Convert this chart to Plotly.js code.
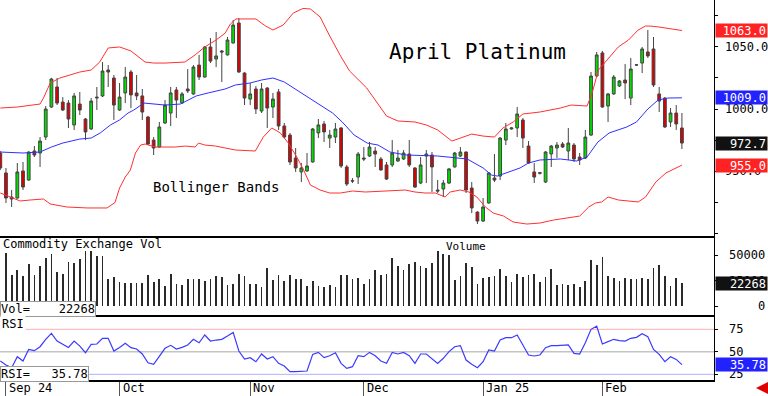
<!DOCTYPE html>
<html><head><meta charset="utf-8">
<script src="https://cdn.plot.ly/plotly-3.0.1.min.js"></script>
<style>html,body{margin:0;padding:0;background:#fff}#chart{width:768px;height:396px}</style>
</head><body><div id="chart"></div>
<script>
// ---- Daily OHLC (trading-day index 0..120) ----
const open = [964.7,948.7,929.4,928.6,950.3,943.0,966.3,964.7,977.5,1001.6,
1017.7,1005.6,1004.8,987.2,1004.0,992.0,984.0,1009.6,1010.5,1031.3,
1024.9,999.2,1012.9,1029.7,1012.9,1010.5,993.6,975.1,969.5,988.8,
996.8,1015.3,1004.8,1016.1,1012.1,1035.3,1025.7,1049.8,1040.1,1046.6,
1043.4,1053.0,1069.0,1028.9,1008.0,1016.1,998.4,1016.9,1001.6,1013.7,
986.4,979.1,960.7,949.5,950.3,957.5,980.8,988.0,976.7,977.5,
984.8,953.5,942.5,945.4,960.7,962.3,966.3,959.9,955.1,955.1,
958.3,959.9,963.9,952.7,940.6,962.3,963.1,935.0,935.8,940.6,
953.5,962.3,965.5,936.6,917.3,910.1,924.6,944.6,946.2,975.1,
984.0,984.8,991.2,970.3,949.5,948.9,941.4,963.9,968.7,971.9,
966.3,971.1,961.5,960.7,979.1,1026.5,1045.0,1002.4,1012.1,1018.5,
1023.3,1008.8,1035.5,1036.9,1045.8,1048.2,1012.1,1008.8,989.6,996.8,984.8];
const high = [966.3,952.7,935.0,956.7,957.5,966.0,970.3,977.5,1002.4,1025.0,
1024.9,1009.6,1007.2,1012.9,1013.7,992.8,1008.8,1017.7,1037.7,1035.3,
1027.3,1020.9,1033.7,1031.3,1027.3,1016.1,994.5,977.5,989.6,1007.2,
1017.7,1017.7,1013.7,1032.1,1035.3,1043.4,1050.5,1057.0,1061.8,1047.4,
1057.8,1071.4,1073.0,1029.5,1020.9,1018.5,1020.9,1017.5,1012.9,1016.1,
988.8,980.8,968.7,956.7,964.7,984.8,992.0,990.4,983.2,988.8,
985.5,955.1,944.6,965.5,969.5,973.5,969.5,961.5,957.5,975.1,
967.1,967.1,975.1,953.3,961.5,967.1,965.5,943.0,943.0,952.7,
965.5,969.5,966.0,941.4,918.0,928.6,949.2,963.9,977.5,988.8,
985.5,1001.6,992.8,974.3,956.7,949.5,966.3,971.1,973.5,973.5,
984.8,972.7,964.7,983.2,1029.7,1045.8,1046.6,1012.9,1027.3,1023.3,
1036.1,1041.0,1036.0,1049.8,1063.4,1057.8,1017.7,1009.6,1000.8,1003.2,996.8];
const low = [951.0,924.6,921.4,928.0,935.0,942.5,961.5,953.5,975.1,1001.0,
1003.2,998.4,984.8,983.2,995.2,975.1,983.2,999.2,1009.6,1017.7,
991.2,998.5,1004.8,1000.8,1007.2,991.2,971.0,963.1,969.0,988.0,
986.4,992.8,1004.5,1012.9,1011.3,1023.3,1025.0,1036.9,1033.7,1021.7,
1043.0,1052.5,1029.0,1003.2,1003.2,996.0,996.8,984.8,992.8,983.2,
976.7,955.1,949.5,941.4,949.5,957.0,976.7,973.5,968.7,972.7,
952.7,938.2,940.6,939.8,958.3,961.5,953.5,950.5,943.0,953.5,
957.5,959.1,953.5,936.6,939.8,940.6,933.4,932.6,929.4,939.8,
953.0,961.5,932.6,916.5,907.7,909.3,924.0,941.4,943.0,971.1,
983.5,977.5,968.7,956.0,940.6,947.5,940.6,953.5,960.7,968.7,
959.1,957.5,955.1,959.9,978.5,1025.7,1001.0,989.6,1011.3,1017.7,
1008.0,1003.2,1034.8,1028.9,1041.0,1017.7,997.6,984.8,985.6,983.2,967.9];
const close = [952.7,928.6,927.8,949.5,937.4,965.5,963.1,974.3,1000.0,1024.1,
1004.8,999.2,992.0,1010.5,999.2,981.6,1006.4,1009.0,1030.5,1029.7,
1003.2,1009.6,1025.7,1011.3,1010.5,997.6,971.9,968.7,985.6,1003.2,
1012.9,1007.2,1012.1,1014.5,1033.7,1025.7,1049.8,1038.5,1042.6,1045.8,
1055.4,1067.4,1029.7,1008.8,1012.1,1000.0,1016.1,1000.8,1008.0,986.4,
977.5,957.5,952.7,952.7,954.3,984.0,987.2,981.6,979.1,984.0,
954.3,939.8,942.2,963.9,959.9,969.5,963.9,951.1,943.8,964.7,
960.7,964.7,955.1,937.4,955.1,963.9,953.5,934.2,940.6,951.9,
964.7,965.5,935.0,920.6,910.1,921.4,948.7,943.0,976.7,984.0,
984.8,996.0,976.7,956.7,945.4,948.5,965.5,970.3,971.1,969.5,
972.7,959.9,959.1,977.5,1026.5,1043.4,1001.6,1012.1,1025.7,1022.5,
1020.9,1032.1,1035.3,1048.2,1042.6,1019.3,1006.4,985.6,996.8,988.0,972.7];

// ---- Commodity Exchange volume ----
const volume = [null,52000,31000,35500,30000,41000,31000,39500,47000,51000,
34000,31500,43700,42000,46000,54000,54000,49000,49000,27000,
29000,24000,23000,23000,23000,23000,31000,23500,27000,20000,
32000,22000,21000,27000,27000,27000,25000,27000,29600,29000,
21000,22000,32000,29600,22000,22000,19000,37000,25600,31000,
25000,31000,27000,27000,20000,25000,20000,18400,21000,19000,
30600,30600,27000,28000,22000,27000,36000,31000,31200,47000,
39400,35500,41000,43700,39400,37100,42700,54600,51300,50300,
25600,29900,42000,38800,21700,27900,28900,29600,36200,29600,
24000,31600,28900,30600,31200,23300,28300,36500,20700,21700,
20700,21700,19000,24700,45400,40400,48600,29600,27300,24700,
27300,26300,26300,27900,26600,37800,40400,29900,19700,27900,22268];

// ---- RSI ----
const rsi = [39.8,35.3,32.4,44.6,39.8,52.7,51.3,55.7,63.9,70.5,
62.0,58.7,54.9,62.0,56.4,49.0,58.3,58.7,65.0,65.0,
50.9,54.9,59.4,54.6,53.1,47.6,37.9,36.1,44.6,53.9,
57.2,53.1,54.9,57.6,63.9,60.1,68.7,62.0,63.1,63.9,
67.6,71.6,50.9,42.0,43.5,39.0,47.6,42.0,44.6,37.2,
34.2,27.9,27.9,28.7,28.7,47.2,49.4,43.5,45.7,49.0,
37.2,31.6,33.5,45.7,44.6,49.4,45.7,39.8,37.2,49.4,
47.6,49.4,45.7,37.2,47.6,47.6,42.0,37.2,42.8,50.2,
55.7,56.9,40.9,36.1,32.4,39.1,52.0,50.9,63.1,65.7,
65.7,68.7,57.6,46.5,45.4,46.5,54.6,56.9,56.9,56.9,
57.6,48.3,47.6,60.0,75.0,78.5,58.7,61.3,63.9,62.4,
62.0,65.0,66.1,70.1,66.8,52.7,47.2,39.0,44.6,41.6,35.78];

// ---- Bollinger bands (read at sample positions) ----
const upperIdx = [0,3,7,7.6,8.8,10.5,14,16,17.5,19,21,23,25.5,27,29,32.5,34.3,36,38,39.6,40.5,41.5,45,46.7,48,49.8,51.6,53.3,54.6,56.3,58,60,61.5,64.5,68,70,73,75,77,78.5,79.5,81,83,85,87,88.5,90.3,92,95,98.6,100.5,103.3,104.2,105.3,106.5,108.8,110.6,112.3,113.6,114.4,116,118.3,120];
const upperVal = [1000.8,1001.6,1004.0,1008.8,1020.9,1024.9,1029.7,1031.3,1037.7,1049.0,1049.8,1046.6,1037.7,1036.9,1036.9,1037.7,1043.4,1049.8,1055.4,1061.0,1068.2,1072.3,1072.3,1066.6,1063.4,1067.4,1077.1,1080.7,1080.3,1073.9,1058.6,1041.8,1030.5,1016.9,994.4,990.4,989.6,987.2,983.2,977.5,974.3,976.7,979.9,978.3,977.5,984.8,989.6,996.0,997.6,1000.8,1003.2,1002.4,1012.9,1031.3,1037.7,1049.8,1055.4,1063.4,1066.6,1066.6,1065.8,1064.2,1063.0];
const midIdx = [0,4,7,9,11,14,16,17.6,19.4,21,22.5,23.5,25.3,29,31.7,33,34.5,36.6,39.6,41.4,44,46,48,50,52.2,54.6,56.3,58.5,60.2,62.3,64.6,66.5,68.6,71.4,77,79.2,82.2,85,86.5,87.5,89.4,91.5,93,95,98.6,101.5,103.3,104.2,105.2,107.2,110.3,112,114,115.8,117.5,120];
const midVal = [965.5,964.7,965.5,969.5,972.7,975.9,976.7,980.8,987.2,991.2,996.8,999.2,1004.8,1003.2,1004.0,1007.2,1010.5,1012.9,1016.1,1019.3,1020.9,1023.3,1024.9,1021.7,1015.3,1008.8,1003.2,996.8,989.6,979.1,972.7,971.1,965.5,963.1,962.3,961.5,959.9,952.7,947.0,946.2,949.5,952.7,956.7,959.1,959.9,958.3,961.5,967.1,973.5,980.8,985.6,989.6,1000.0,1007.2,1008.8,1009.0];
const lowerIdx = [0,2.6,3.5,5.3,7.6,8.8,11.7,15.3,18.8,20.2,21,22,22.9,23.8,24.7,25.5,27.3,30.8,32.6,34.3,34.9,36,37.9,39.6,41.4,44.9,46.3,47.8,49.3,50.7,52.2,53.4,54.6,56.3,58,59.9,62,64.3,67.8,71.3,73,74.8,76.6,77.7,78.3,79.2,81,82.5,83.9,85.4,86.8,88.6,90.3,92.7,95,97.4,100.4,102,103.6,104.8,105.9,107,108.8,110.6,112.3,113.6,115.4,117.2,119,120];
const lowerVal = [932.6,927.8,926.2,927.0,927.8,923.8,921.4,920.6,920.6,925.0,936.6,945.4,951.1,964.7,971.1,971.9,969.5,969.5,970.3,969.5,972.7,971.1,970.3,968.7,967.1,966.3,977.5,984.8,980.8,972.7,961.5,951.1,939.0,935.0,932.6,932.6,934.2,933.4,934.2,935.0,933.4,932.6,932.6,930.2,929.4,933.4,935.0,933.4,929.4,921.4,916.5,914.1,909.3,907.7,908.5,910.9,913.3,914.1,921.4,924.6,925.4,929.4,927.0,926.2,925.4,929.4,941.4,948.7,952.7,955.0];

// ---- Axis ticks / labels ----
const monthIdx = [1, 21, 44, 64, 85, 106];
const monthLabels = ['Sep 24', 'Oct', 'Nov', 'Dec', 'Jan 25', 'Feb'];
const priceTicks = [900, 925, 950, 975, 1000, 1025, 1050, 1075];
const priceLabels = [950, 1000, 1050];
const volTicks = [0, 25000, 50000];
const rsiTicks = [25, 50, 75];

const days = open.map((_, i) => i);
const W = 768, H = 396;
const px = v => v / W, py = v => 1 - v / H;
const MONO = 'DejaVu Sans Mono';
const last = a => a[a.length - 1];

const traces = [
  {type:'scatter', mode:'lines', x:upperIdx, y:upperVal, xaxis:'x', yaxis:'y', line:{color:'#ff3030', width:1}, hoverinfo:'skip'},
  {type:'scatter', mode:'lines', x:lowerIdx, y:lowerVal, xaxis:'x', yaxis:'y', line:{color:'#ff3030', width:1}, hoverinfo:'skip'},
  {type:'scatter', mode:'lines', x:midIdx, y:midVal, xaxis:'x', yaxis:'y', line:{color:'#2f2fff', width:1}, hoverinfo:'skip'},
  {type:'candlestick', x:days, open:open, high:high, low:low, close:close, xaxis:'x', yaxis:'y',
   increasing:{line:{color:'#444', width:1}, fillcolor:'#00dd00'},
   decreasing:{line:{color:'#444', width:1}, fillcolor:'#dd0000'}, whiskerwidth:0, hoverinfo:'skip'},
  {type:'bar', x:days, y:volume, xaxis:'x2', yaxis:'y2', width:0.3, marker:{color:'#2a2a2a', line:{width:0}}, hoverinfo:'skip'},
  {type:'scatter', mode:'lines', x:days, y:rsi, xaxis:'x3', yaxis:'y3', line:{color:'#3a3aff', width:1.2}, hoverinfo:'skip'}
];

const xr = [-0.05, 125.65];
const xBase = {domain:[0, 714/W], range:xr, showgrid:false, zeroline:false, showticklabels:false,
  showline:true, linecolor:'#000', linewidth:1.5, fixedrange:true};
const yBase = {side:'right', showline:true, linecolor:'#000', linewidth:1, ticks:'outside', ticklen:3,
  tickcolor:'#000', showticklabels:false, showgrid:false, zeroline:false, fixedrange:true};

const ann = [];
const txt = (o) => ann.push(Object.assign({showarrow:false, xanchor:'center', yanchor:'middle',
  font:{family:MONO, size:12, color:'#000'}}, o));

// right-hand axis labels
priceLabels.forEach(v => txt({x:px(723), xref:'paper', xanchor:'left', y:v, yref:'y', text:v.toFixed(1)}));
volTicks.forEach(v => txt({x:px(767), xref:'paper', xanchor:'right', y:v, yref:'y2', text:String(v)}));
rsiTicks.forEach(v => txt({x:px(727), xref:'paper', xanchor:'left', y:v, yref:'y3', text:String(v)}));

// last-value boxes
const box = (v, yref, s, bg) => txt({x:1, xref:'paper', xanchor:'right', y:v, yref:yref,
  text:s, bgcolor:bg, width:49, height:11, align:'right', borderpad:1, font:{family:MONO, size:12, color:'#fff'}});
box(last(upperVal), 'y', last(upperVal).toFixed(1), '#ff2222');
box(last(midVal), 'y', last(midVal).toFixed(1), '#2222ff');
box(last(close), 'y', last(close).toFixed(1), '#111');
box(last(lowerVal), 'y', last(lowerVal).toFixed(1), '#ff2222');
box(last(volume), 'y2', String(last(volume)), '#111');
box(last(rsi), 'y3', last(rsi).toFixed(2), '#2222ff');

// titles & panel labels
txt({x:px(477), xref:'paper', y:py(52), yref:'paper', text:'April Platinum', font:{family:MONO, size:21, color:'#000'}});
txt({x:px(216), xref:'paper', y:py(187), yref:'paper', text:'Bollinger Bands', font:{family:MONO, size:14, color:'#000'}});
txt({x:px(1), xref:'paper', xanchor:'left', y:py(244), yref:'paper', text:'Commodity Exchange Vol'});
txt({x:px(466), xref:'paper', y:py(246), yref:'paper', text:'Volume', font:{family:MONO, size:11, color:'#000'}});
txt({x:0, xref:'paper', xanchor:'left', y:py(308.5), yref:'paper', text:'Vol=    ' + last(volume),
  bgcolor:'#fff', bordercolor:'#999', borderwidth:1, borderpad:0});
txt({x:0, xref:'paper', xanchor:'left', y:py(324), yref:'paper', text:'RSI', bgcolor:'#fff', borderpad:1});
txt({x:0, xref:'paper', xanchor:'left', y:py(373.5), yref:'paper', text:'RSI=   ' + last(rsi).toFixed(2),
  bgcolor:'#fff', bordercolor:'#999', borderwidth:1, borderpad:0});

// month labels
monthIdx.forEach((m, k) => txt({x:m, xref:'x3', xanchor:'left', xshift:1, y:py(387.5), yref:'paper', text:monthLabels[k]}));

// red arrow bottom-right
ann.push({x:px(756), xref:'paper', y:py(388), yref:'paper', ax:12, ay:0, text:'', showarrow:true,
  arrowhead:2, arrowsize:1, arrowwidth:3, arrowcolor:'#e00000'});

const shapes = [
  {type:'line', xref:'x3 domain', x0:0, x1:1, yref:'y3', y0:75, y1:75, line:{color:'#ffb0b0', width:1}, layer:'below'},
  {type:'line', xref:'x3 domain', x0:0, x1:1, yref:'y3', y0:50, y1:50, line:{color:'#c4c4c4', width:1.5}, layer:'below'},
  {type:'line', xref:'x3 domain', x0:0, x1:1, yref:'y3', y0:25, y1:25, line:{color:'#b0b0ff', width:1}, layer:'below'}
];

const layout = {
  width:W, height:H, margin:{l:0, r:0, t:0, b:0}, paper_bgcolor:'#fff', plot_bgcolor:'#fff',
  showlegend:false, dragmode:false, bargap:0,
  xaxis:Object.assign({}, xBase, {anchor:'y', rangeslider:{visible:false}}),
  xaxis2:Object.assign({}, xBase, {anchor:'y2'}),
  xaxis3:Object.assign({}, xBase, {anchor:'y3', ticks:'outside', ticklen:15, tickcolor:'#555', tickwidth:1, tickvals:monthIdx}),
  yaxis:Object.assign({}, yBase, {anchor:'x', domain:[1 - 236/H, 1], range:[898.1, 1087.5], tickvals:priceTicks}),
  yaxis2:Object.assign({}, yBase, {anchor:'x2', domain:[1 - 315/H, 1 - 237/H], range:[-8876, 68050], tickvals:volTicks}),
  yaxis3:Object.assign({}, yBase, {anchor:'x3', domain:[1 - 380/H, 1 - 316/H], range:[18.7, 89.8], tickvals:rsiTicks}),
  annotations:ann, shapes:shapes
};

Plotly.newPlot('chart', traces, layout, {staticPlot:true, displayModeBar:false});
</script>
</body></html>
